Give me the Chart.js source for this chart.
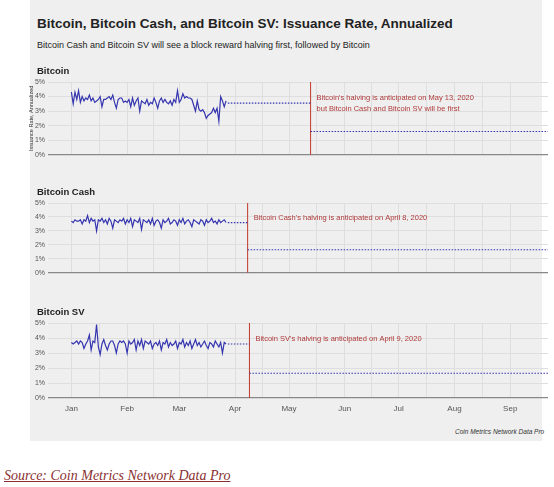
<!DOCTYPE html>
<html><head><meta charset="utf-8">
<script src="https://cdn.jsdelivr.net/npm/chart.js@4"></script>
<style>
body{margin:0;width:554px;height:487px;background:#fff;position:relative;font-family:"Liberation Sans",Arial,sans-serif;overflow:hidden}
#bg{position:absolute;left:30px;top:0;width:512px;height:441px;background:#efefef}
.c{position:absolute;left:0}
#t{position:absolute;left:37px;top:16px;font-size:13.5px;font-weight:bold;color:#222}
#s{position:absolute;left:37px;top:40px;font-size:9px;color:#222}
#f{position:absolute;left:455px;top:428px;font-size:6.5px;font-style:italic;color:#333}
#src{position:absolute;left:4px;top:468px;font-family:"Liberation Serif",serif;font-style:italic;font-size:14px;color:#8a3030;text-decoration:underline}
</style></head><body>
<div id="bg"></div>
<div id="t">Bitcoin, Bitcoin Cash, and Bitcoin SV: Issuance Rate, Annualized</div>
<div id="s">Bitcoin Cash and Bitcoin SV will see a block reward halving first, followed by Bitcoin</div>
<div class="c" style="top:62px"><canvas id="c1" width="554" height="100"></canvas></div>
<div class="c" style="top:183px"><canvas id="c2" width="554" height="97"></canvas></div>
<div class="c" style="top:303px"><canvas id="c3" width="554" height="115"></canvas></div>
<div id="f">Coin Metrics Network Data Pro</div>
<div id="src">Source: Coin Metrics Network Data Pro</div>
<script>
const monthLabels=["Jan","Feb","Mar","Apr","May","Jun","Jul","Aug","Sep"];
const monthDays=[0,31,60,91,121,152,182,213,244];
const btc=[4.3,3.5,4.3,3.8,4.4,3.6,4.0,3.7,3.9,3.8,4.1,3.7,3.9,3.6,3.7,3.8,4.0,3.3,3.8,3.8,3.9,4.0,3.8,4.1,3.6,3.2,3.8,3.9,3.9,3.6,3.7,3.6,3.8,3.3,3.9,3.4,3.7,3.9,3.0,3.7,3.6,3.5,3.8,3.4,3.6,3.5,3.9,3.6,3.2,3.7,3.9,3.6,3.8,3.6,3.5,3.7,3.4,3.8,3.6,4.4,3.6,3.8,4.2,3.9,4.0,3.9,3.9,3.8,3.4,3.0,3.7,3.1,3.0,3.1,2.9,2.5,2.7,2.8,2.9,3.2,2.9,3.2,2.3,4.0,3.7,3.3,3.7];
const bch=[3.7,3.6,3.8,3.7,3.7,3.8,3.5,3.8,3.7,4.1,3.6,3.9,3.7,3.8,3.0,3.8,3.7,3.9,3.6,3.8,3.5,3.9,3.7,3.2,3.8,3.7,3.6,3.8,3.7,3.9,3.5,3.8,3.6,3.9,3.3,3.8,3.7,3.6,3.9,3.1,3.8,3.7,3.6,3.8,3.5,3.9,3.4,3.7,3.8,3.6,3.2,3.8,3.6,3.7,3.9,3.5,3.6,3.8,3.7,3.4,3.8,3.6,3.9,3.5,3.7,3.8,3.6,3.3,3.8,3.7,3.6,3.5,3.8,3.7,3.4,3.8,3.6,3.7,3.9,3.6,3.7,3.5,3.8,3.6,3.7,3.8,3.6];
const bsv=[3.7,3.6,3.7,3.8,3.6,3.8,3.7,3.3,3.6,3.8,4.2,3.2,3.8,3.7,4.9,3.4,2.9,3.6,3.9,3.5,3.2,3.6,3.8,3.8,3.5,3.0,3.6,3.8,3.7,3.8,3.6,3.0,3.8,3.6,3.7,3.9,3.2,3.8,3.5,3.9,3.3,3.8,3.7,3.6,3.8,3.3,3.6,3.7,3.5,3.8,3.2,3.7,3.6,3.9,3.4,3.7,3.5,3.6,3.8,3.3,3.7,3.6,3.9,3.4,3.7,3.5,3.8,3.3,3.6,3.9,3.5,3.7,3.4,3.6,3.8,3.5,3.3,3.7,3.6,3.4,3.8,3.6,3.4,3.7,3.0,3.7,3.6];
const btcPre=3.55, btcPost=1.6, btcHalving=133;
const bchPre=3.6, bchPost=1.65, bchHalving=98;
const bsvPre=3.6, bsvPost=1.65, bsvHalving=99;
const xMin=-13, xMax=265;
const F='"Liberation Sans", Arial, sans-serif';

function make(id,title,vals,pre,post,halv,note,showX,yTitle){
  const solid=vals.map((v,i)=>({x:i,y:v}));
  const last=vals.length-1;
  const plug={id:'p'+id,afterDraw(ch){
    const c=ch.ctx,a=ch.chartArea,xs=ch.scales.x,ys=ch.scales.y;
    c.save();c.fillStyle='#222';c.font='bold 9.5px '+F;c.textBaseline='alphabetic';
    c.fillText(title,37,12);
    c.fillStyle='#b03a3a';c.font='7.5px '+F;
    const tx=xs.getPixelForValue(halv)+6;
    note.forEach((l,i)=>c.fillText(l,tx,ys.getPixelForValue(4.0)+i*11+3));
    if(yTitle){c.translate(31,(a.top+a.bottom)/2);c.rotate(-Math.PI/2);c.fillStyle='#333';c.font='5.5px '+F;c.textAlign='center';c.textBaseline='middle';c.fillText(yTitle,0,0);}
    c.restore();}};
  new Chart(document.getElementById(id),{type:'line',
    data:{datasets:[
      {data:solid,borderColor:'#3535b0',borderWidth:1.2,pointRadius:0,tension:0},
      {data:[{x:last+1,y:pre},{x:halv,y:pre}],borderColor:'#3535b0',borderWidth:1.2,borderDash:[1.5,1.5],pointRadius:0},
      {data:[{x:halv,y:post},{x:xMax,y:post}],borderColor:'#3535b0',borderWidth:1.2,borderDash:[1.5,1.5],pointRadius:0},
      {data:[{x:halv,y:0},{x:halv,y:5}],borderColor:'#c0392b',borderWidth:1,pointRadius:0}
    ]},
    options:{responsive:false,animation:false,events:[],
      layout:{padding:{top:20,right:6}},
      plugins:{legend:{display:false},tooltip:{enabled:false}},
      scales:{
        x:{type:'linear',min:xMin,max:xMax,
          afterBuildTicks(s){const t=[];monthDays.forEach((d,i)=>{t.push({value:d});if(i<monthDays.length-1)t.push({value:(d+monthDays[i+1])/2});});s.ticks=t;},
          afterFit(s){s.height=showX?20:5;},
          grid:{color:'#dedede',drawTicks:false},border:{display:false},
          ticks:{display:showX,autoSkip:false,maxRotation:0,color:'#555',font:{size:8,family:F},padding:6,
            callback:v=>{const i=monthDays.indexOf(v);return i>=0?monthLabels[i]:'';}}},
        y:{min:0,max:5,afterFit(s){s.width=48;},
          afterBuildTicks(s){s.ticks=[0,0.5,1,1.5,2,2.5,3,3.5,4,4.5,5].map(v=>({value:v}));},
          grid:{color:c=>c.tick&&c.tick.value===0?'#888':'#dedede',lineWidth:c=>c.tick&&c.tick.value===0?1.3:1,drawTicks:false},border:{display:false},
          ticks:{color:'#555',font:{size:7,family:F},padding:3,callback:v=>Number.isInteger(v)?v+'%':''}}
      }},plugins:[plug]});
}
make('c1','Bitcoin',btc,btcPre,btcPost,btcHalving,["Bitcoin's halving is anticipated on May 13, 2020","but Bitcoin Cash and Bitcoin SV will be first"],false,'Issuance Rate, Annualized');
make('c2','Bitcoin Cash',bch,bchPre,bchPost,bchHalving,["Bitcoin Cash's halving is anticipated on April 8, 2020"],false,null);
make('c3','Bitcoin SV',bsv,bsvPre,bsvPost,bsvHalving,["Bitcoin SV's halving is anticipated on April 9, 2020"],true,null);
</script></body></html>
